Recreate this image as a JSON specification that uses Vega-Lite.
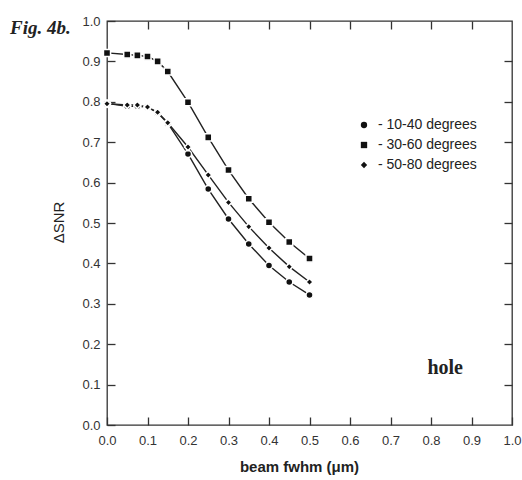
{
  "$schema": "https://vega.github.io/schema/vega-lite/v6.json",
  "width": 405,
  "height": 404,
  "autosize": {"type": "none"},
  "padding": {"left": 107, "top": 21, "right": 10, "bottom": 55},
  "background": "white",
  "title": {"text": "Fig. 4b.", "anchor": "start", "frame": "group", "orient": "top", "offset": 0, "dx": -97, "dy": 38, "baseline": "alphabetic", "font": "Liberation Serif", "fontStyle": "italic", "fontWeight": "bold", "fontSize": 19, "color": "#222"},
  "config": {
    "view": {"stroke": "#333", "strokeWidth": 1.3},
    "axis": {"grid": false, "domain": false, "tickColor": "#333", "tickWidth": 1.3, "labelFlush": false, "labelFont": "Liberation Sans", "labelColor": "#333", "titleFont": "Liberation Sans", "titleColor": "#222"}
  },
  "data": {"values": [
    {"series": "10-40 degrees", "x": 0, "y": 0.796},
    {"series": "10-40 degrees", "x": 0.05, "y": 0.789},
    {"series": "10-40 degrees", "x": 0.075, "y": 0.789},
    {"series": "10-40 degrees", "x": 0.1, "y": 0.787},
    {"series": "10-40 degrees", "x": 0.125, "y": 0.773},
    {"series": "10-40 degrees", "x": 0.15, "y": 0.747},
    {"series": "10-40 degrees", "x": 0.2, "y": 0.671},
    {"series": "10-40 degrees", "x": 0.25, "y": 0.584},
    {"series": "10-40 degrees", "x": 0.3, "y": 0.51},
    {"series": "10-40 degrees", "x": 0.35, "y": 0.448},
    {"series": "10-40 degrees", "x": 0.4, "y": 0.395},
    {"series": "10-40 degrees", "x": 0.45, "y": 0.354},
    {"series": "10-40 degrees", "x": 0.5, "y": 0.322},
    {"series": "30-60 degrees", "x": 0, "y": 0.921},
    {"series": "30-60 degrees", "x": 0.05, "y": 0.917},
    {"series": "30-60 degrees", "x": 0.075, "y": 0.915},
    {"series": "30-60 degrees", "x": 0.1, "y": 0.912},
    {"series": "30-60 degrees", "x": 0.125, "y": 0.9},
    {"series": "30-60 degrees", "x": 0.15, "y": 0.875},
    {"series": "30-60 degrees", "x": 0.2, "y": 0.799},
    {"series": "30-60 degrees", "x": 0.25, "y": 0.712},
    {"series": "30-60 degrees", "x": 0.3, "y": 0.631},
    {"series": "30-60 degrees", "x": 0.35, "y": 0.56},
    {"series": "30-60 degrees", "x": 0.4, "y": 0.502},
    {"series": "30-60 degrees", "x": 0.45, "y": 0.453},
    {"series": "30-60 degrees", "x": 0.5, "y": 0.412},
    {"series": "50-80 degrees", "x": 0, "y": 0.795},
    {"series": "50-80 degrees", "x": 0.05, "y": 0.792},
    {"series": "50-80 degrees", "x": 0.075, "y": 0.792},
    {"series": "50-80 degrees", "x": 0.1, "y": 0.787},
    {"series": "50-80 degrees", "x": 0.125, "y": 0.774},
    {"series": "50-80 degrees", "x": 0.15, "y": 0.748},
    {"series": "50-80 degrees", "x": 0.2, "y": 0.688},
    {"series": "50-80 degrees", "x": 0.25, "y": 0.619},
    {"series": "50-80 degrees", "x": 0.3, "y": 0.551},
    {"series": "50-80 degrees", "x": 0.35, "y": 0.491},
    {"series": "50-80 degrees", "x": 0.4, "y": 0.438},
    {"series": "50-80 degrees", "x": 0.45, "y": 0.392},
    {"series": "50-80 degrees", "x": 0.5, "y": 0.354}
  ]},
  "resolve": {"axis": {"x": "independent", "y": "independent"}},
  "layer": [
    {
      "mark": {"type": "line", "color": "#222", "strokeWidth": 1.4},
      "encoding": {
        "x": {"field": "x", "type": "quantitative", "scale": {"domain": [0, 1], "nice": false},
              "axis": {"orient": "bottom", "values": [0,0.1,0.2,0.3,0.4,0.5,0.6,0.7,0.8,0.9,1.0], "format": ".1f", "tickSize": -8, "labelPadding": 17, "labelFontSize": 13, "title": "beam fwhm (μm)", "titleFontSize": 15, "titleFontWeight": "bold", "titleX": 192, "titleY": 41, "titleBaseline": "middle"}},
        "y": {"field": "y", "type": "quantitative", "scale": {"domain": [0, 1], "nice": false},
              "axis": {"orient": "left", "values": [0,0.1,0.2,0.3,0.4,0.5,0.6,0.7,0.8,0.9,1.0], "format": ".1f", "tickSize": -8, "labelPadding": 15, "labelFontSize": 13, "title": "ΔSNR", "titleFontSize": 15, "titleFontWeight": "normal", "titleX": -49, "titleY": 201, "titleBaseline": "middle", "titleAngle": -90}},
        "detail": {"field": "series"}
      }
    },
    {
      "mark": {"type": "point", "filled": true, "fill": "#111", "stroke": "white", "strokeWidth": 1.5, "opacity": 1, "size": 50},
      "encoding": {
        "x": {"field": "x", "type": "quantitative", "axis": null},
        "y": {"field": "y", "type": "quantitative", "axis": null},
        "shape": {"field": "series", "type": "nominal",
                  "scale": {"domain": ["10-40 degrees", "30-60 degrees", "50-80 degrees"], "range": ["circle", "square", "diamond"]},
                  "legend": {"orient": "none", "legendX": 250, "legendY": 97, "title": null, "labelExpr": "'- ' + datum.label", "labelFont": "Liberation Sans", "labelFontSize": 14, "labelColor": "#222", "symbolFillColor": "#111", "symbolStrokeColor": "#111", "symbolStrokeWidth": 0, "symbolSize": 40, "symbolOpacity": 1, "rowPadding": 6, "labelOffset": 7}}
      }
    },
    {
      "data": {"values": [{"x": 0.835, "y": 0.141, "label": "hole"}]},
      "mark": {"type": "text", "font": "Liberation Serif", "fontWeight": "bold", "fontSize": 20, "color": "#222", "baseline": "middle", "align": "center"},
      "encoding": {
        "x": {"field": "x", "type": "quantitative", "axis": null},
        "y": {"field": "y", "type": "quantitative", "axis": null},
        "text": {"field": "label"}
      }
    },
    {
      "mark": {"type": "point", "opacity": 0},
      "encoding": {
        "x": {"field": "x", "type": "quantitative",
              "axis": {"orient": "top", "values": [0.1,0.2,0.3,0.4,0.5,0.6,0.7,0.8,0.9], "labels": false, "tickSize": -8, "title": null}},
        "y": {"field": "y", "type": "quantitative",
              "axis": {"orient": "right", "values": [0.1,0.2,0.3,0.4,0.5,0.6,0.7,0.8,0.9], "labels": false, "tickSize": -8, "title": null}}
      }
    }
  ]
}
